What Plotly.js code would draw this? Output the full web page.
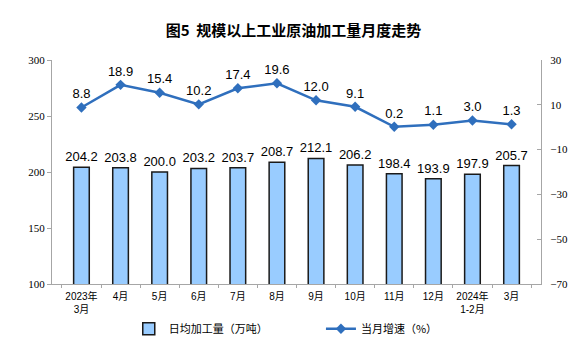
<!DOCTYPE html>
<html><head><meta charset="utf-8">
<script src="https://cdn.plot.ly/plotly-3.0.1.min.js"></script>
<style>html,body{margin:0;padding:0;background:#fff;}#c{width:587px;height:362px;}</style>
</head><body><div id="c"></div>
<script>
const categories = ["2023年<br>3月","4月","5月","6月","7月","8月","9月","10月","11月","12月","2024年<br>1-2月","3月"];
const dailyOutput = [204.2,203.8,200.0,203.2,203.7,208.7,212.1,206.2,198.4,193.9,197.9,205.7];
const growthRate = [8.8,18.9,15.4,10.2,17.4,19.6,12.0,9.1,0.2,1.1,3.0,1.3];
const leftTicks = [100,150,200,250,300];
const rightTicks = [-70,-50,-30,-10,10,30];

const cjk = '"Noto Sans CJK SC", sans-serif';
const bars = {
  type:'bar', x:categories, y:dailyOutput, name:'日均加工量（万吨）',
  marker:{color:'#99ccff', line:{color:'#1a1a1a', width:1.5}},
  width:0.4,
  text:dailyOutput.map(v=>v.toFixed(1)), textposition:'outside', cliponaxis:false, constraintext:'none',
  textfont:{family:'Liberation Sans, Arial, sans-serif', size:13, color:'#000'},
  hoverinfo:'none', legend:'legend'
};
const line = {
  type:'scatter', mode:'lines+markers+text', x:categories, y:growthRate, yaxis:'y2',
  name:'当月增速（%）',
  line:{color:'#2f6fbd', width:2.5}, marker:{symbol:'diamond', size:8, color:'#2f6fbd'},
  text:growthRate.map(v=>v.toFixed(1)), textposition:'top center', cliponaxis:false,
  textfont:{family:'Liberation Sans, Arial, sans-serif', size:13, color:'#000'},
  hoverinfo:'none', legend:'legend2'
};
const legFont = {family:cjk, size:11, color:'#000'};
const layout = {
  width:587, height:362,
  margin:{l:52, r:46, t:60, b:78},
  paper_bgcolor:'#fff', plot_bgcolor:'#fff',
  title:{text:'图5  规模以上工业原油加工量月度走势', x:0.5, xanchor:'center', y:0.915, yanchor:'middle',
    font:{family:cjk, size:15, color:'#000', weight:'bold'}},
  showlegend:true,
  legend:{orientation:'h', x:0.157, xanchor:'left', y:-0.2, yanchor:'middle', font:legFont, itemwidth:30},
  legend2:{orientation:'h', x:0.55, xanchor:'left', y:-0.2, yanchor:'middle', font:legFont, itemwidth:30},
  xaxis:{type:'category', showline:true, linecolor:'#a6a6a6', linewidth:1, tickangle:0,
    ticks:'outside', tickson:'boundaries', ticklen:3, tickcolor:'#a6a6a6', ticklabelstandoff:3,
    tickfont:{family:'"Liberation Sans", "Noto Sans CJK SC", sans-serif', size:10, color:'#000'},
    showgrid:false, zeroline:false, fixedrange:true},
  yaxis:{range:[100,300], tickvals:leftTicks, showline:true, linecolor:'#a6a6a6', linewidth:1,
    ticks:'outside', ticklen:4, tickcolor:'#a6a6a6', showgrid:false, zeroline:false,
    tickfont:{family:'Liberation Serif, Times New Roman, serif', size:11, color:'#000'}},
  yaxis2:{range:[-70,30], tickvals:rightTicks, overlaying:'y', side:'right', showline:true,
    linecolor:'#a6a6a6', linewidth:1, ticks:'inside', ticklen:4, tickcolor:'#a6a6a6',
    showgrid:false, zeroline:false, ticklabelstandoff:6,
    tickfont:{family:'Liberation Serif, Times New Roman, serif', size:11, color:'#000'}}
};
Plotly.newPlot('c',[bars,line],layout,{displayModeBar:false, staticPlot:true});
</script></body></html>
